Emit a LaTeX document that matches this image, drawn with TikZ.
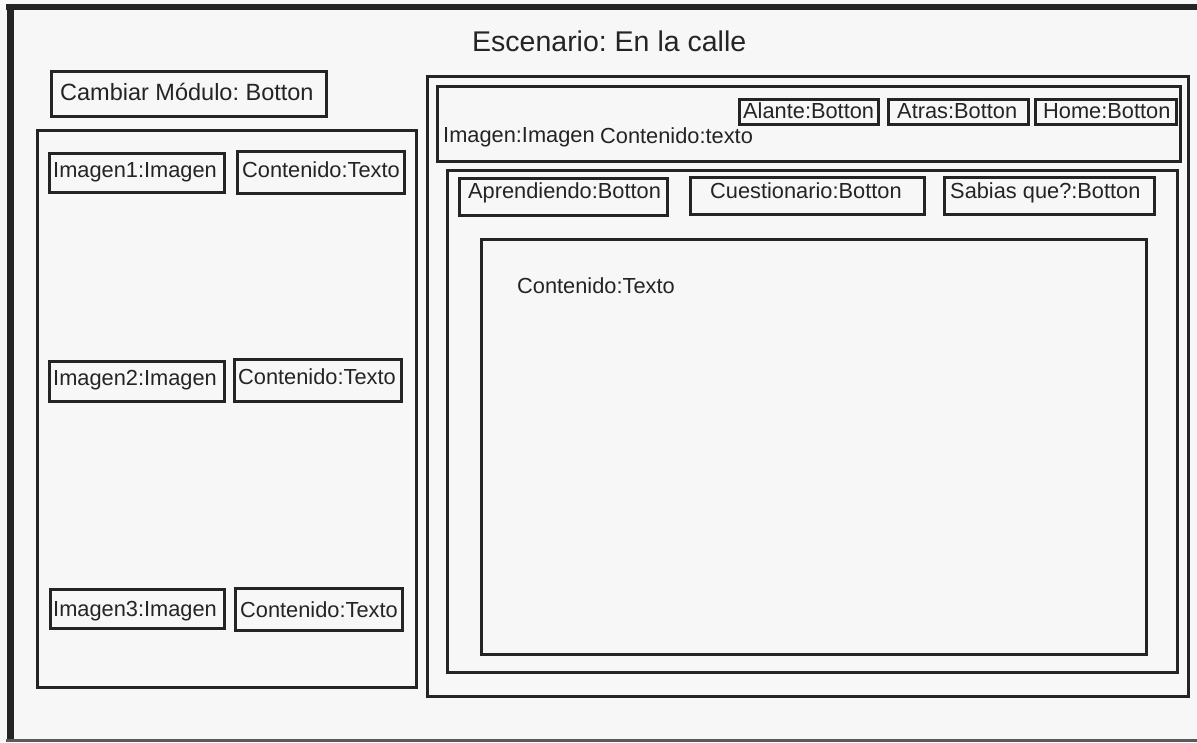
\documentclass[tikz,border=0pt]{standalone}
\usepackage{fontspec}
\setmainfont{Liberation Sans}
\frenchspacing
\definecolor{paper}{HTML}{F7F7F7}
\definecolor{ink}{HTML}{242424}
\definecolor{rule}{HTML}{5A5A5A}
\begin{document}
\begin{tikzpicture}[x=1pt,y=-1pt,
  wbox/.style={draw=ink, line width=3pt, anchor=north west, inner sep=0pt, outer sep=0pt},
  lbl/.style={anchor=base west, inner sep=0pt, text=ink, font=\fontsize{21.8}{24}\selectfont},
  frameline/.style={draw=ink, line width=#1}]
  % page and surrounding frame
  \useasboundingbox (0,0) rectangle (1197,742);
  \fill[paper] (0,0) rectangle (1197,742);
  \coordinate (tl) at (6,7);
  \coordinate (tr) at (1197,7);
  \coordinate (bl) at (10,742);
  \coordinate (blb) at (6,740);
  \coordinate (brb) at (1197,740);
  \draw[frameline=6pt] (tl) -- (tr);
  \draw[frameline=7pt] (10,4) -- (bl);
  \draw[draw=rule, line width=3pt] (blb) -- (brb);

  % title
  \node[lbl, font=\fontsize{28.5}{32}\selectfont] (title) at (472,51) {Escenario: En la calle};

  % module switch button
  \node[wbox, minimum width=275pt, minimum height=45pt] (cambiar) at (51,71) {};
  \node[lbl, font=\fontsize{23.5}{26}\selectfont] (cambiarT) at (60,100) {Cambiar Módulo: Botton};

  % left column
  \node[wbox, minimum width=379pt, minimum height=557pt] (left) at (37,130) {};
  \node[wbox, minimum width=175pt, minimum height=39pt] (img1) at (49,153) {};
  \node[lbl] (img1T) at (53,177) {Imagen1:Imagen};
  \node[wbox, minimum width=167pt, minimum height=42pt] (cont1) at (237,151) {};
  \node[lbl] (cont1T) at (242,177) {Contenido:Texto};

  \node[wbox, minimum width=175pt, minimum height=40pt] (img2) at (49,361) {};
  \node[lbl] (img2T) at (53,385) {Imagen2:Imagen};
  \node[wbox, minimum width=167pt, minimum height=42pt] (cont2) at (234,359) {};
  \node[lbl] (cont2T) at (238,384) {Contenido:Texto};

  \node[wbox, minimum width=174pt, minimum height=39pt] (img3) at (50,589) {};
  \node[lbl] (img3T) at (53,616) {Imagen3:Imagen};
  \node[wbox, minimum width=167pt, minimum height=42pt] (cont3) at (235,588) {};
  \node[lbl] (cont3T) at (240,617) {Contenido:Texto};

  % right panel
  \node[wbox, minimum width=761pt, minimum height=620pt] (right) at (427,76) {};

  % header strip
  \node[wbox, minimum width=743pt, minimum height=75pt] (header) at (437,86) {};
  \node[wbox, minimum width=139pt, minimum height=25pt] (alante) at (739,99) {};
  \node[lbl] (alanteT) at (743,118) {Alante:Botton};
  \node[wbox, minimum width=140pt, minimum height=25pt] (atras) at (888,99) {};
  \node[lbl] (atrasT) at (897,118) {Atras:Botton};
  \node[wbox, minimum width=141pt, minimum height=25pt] (home) at (1035,99) {};
  \node[lbl] (homeT) at (1043,118) {Home:Botton};
  \node[lbl] (imgT) at (443,142) {Imagen:Imagen};
  \node[lbl] (contHT) at (600,143) {Contenido:texto};

  % section with tabs
  \node[wbox, minimum width=730pt, minimum height=502pt] (section) at (447,170) {};
  \node[wbox, minimum width=208pt, minimum height=37pt] (aprend) at (459,178) {};
  \node[lbl] (aprendT) at (468,198) {Aprendiendo:Botton};
  \node[wbox, minimum width=234pt, minimum height=37pt] (cuest) at (690,177) {};
  \node[lbl] (cuestT) at (710,198) {Cuestionario:Botton};
  \node[wbox, minimum width=210pt, minimum height=37pt] (sabias) at (944,177) {};
  \node[lbl] (sabiasT) at (950,198) {Sabias que?:Botton};

  % content area
  \node[wbox, minimum width=665pt, minimum height=415pt] (content) at (481,239) {};
  \node[lbl] (contentT) at (517,293) {Contenido:Texto};
\end{tikzpicture}
\end{document}
